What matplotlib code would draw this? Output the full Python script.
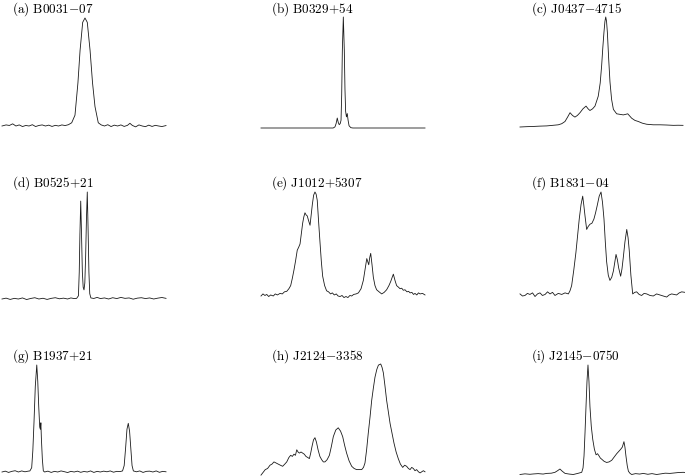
import numpy as np
import matplotlib
matplotlib.use("Agg")
import matplotlib.pyplot as plt

plt.rcParams['mathtext.fontset'] = 'cm'

# pulse profiles: (pulse phase, flux / peak flux)
a_profile = [(0.000, 0.000), (0.025, 0.010), (0.045, 0.005), (0.065, 0.020), (0.085, 0.000),
             (0.105, 0.010), (0.125, -0.005), (0.145, 0.005), (0.165, 0.000), (0.185, 0.012),
             (0.205, -0.005), (0.225, 0.005), (0.245, 0.010), (0.265, 0.000), (0.285, 0.008),
             (0.305, -0.004), (0.325, 0.006), (0.345, 0.000), (0.365, 0.010), (0.385, 0.004),
             (0.405, 0.012), (0.425, 0.030), (0.445, 0.100), (0.463, 0.400), (0.476, 0.700),
             (0.492, 0.960), (0.506, 1.000), (0.520, 0.960), (0.537, 0.700), (0.552, 0.400),
             (0.567, 0.180), (0.587, 0.030), (0.605, 0.010), (0.625, 0.000), (0.645, 0.012),
             (0.665, -0.005), (0.685, 0.008), (0.705, 0.000), (0.725, 0.010), (0.745, -0.004),
             (0.765, 0.006), (0.780, 0.025), (0.795, 0.005), (0.815, -0.008), (0.835, 0.010),
             (0.855, 0.000), (0.875, -0.006), (0.895, 0.008), (0.915, -0.004), (0.935, 0.006),
             (0.955, 0.000), (0.975, -0.005), (1.000, 0.004)]

b_profile = [(0.000, 0.0), (0.400, 0.0), (0.440, 0.0), (0.451, 0.01), (0.458, 0.04),
             (0.465, 0.09), (0.471, 0.05), (0.477, 0.03), (0.483, 0.04), (0.488, 0.07),
             (0.492, 0.30), (0.496, 0.70), (0.502, 1.00), (0.508, 0.70), (0.512, 0.35),
             (0.516, 0.15), (0.521, 0.10), (0.526, 0.13), (0.531, 0.07), (0.537, 0.02),
             (0.548, 0.003), (0.560, 0.0), (1.000, 0.0)]

c_profile = [(0.000, 0.000), (0.041, 0.003), (0.082, 0.005), (0.123, 0.008), (0.164, 0.010),
             (0.200, 0.015), (0.235, 0.020), (0.256, 0.030), (0.276, 0.050), (0.292, 0.090),
             (0.307, 0.130), (0.322, 0.105), (0.337, 0.090), (0.352, 0.105), (0.368, 0.130),
             (0.386, 0.165), (0.405, 0.190), (0.418, 0.165), (0.429, 0.150), (0.445, 0.165),
             (0.460, 0.190), (0.480, 0.280), (0.492, 0.400), (0.501, 0.560), (0.508, 0.720),
             (0.515, 0.860), (0.521, 0.960), (0.526, 1.000), (0.531, 0.960), (0.536, 0.860),
             (0.544, 0.620), (0.552, 0.410), (0.562, 0.250), (0.573, 0.160), (0.593, 0.120),
             (0.613, 0.115), (0.634, 0.110), (0.648, 0.115), (0.661, 0.120), (0.673, 0.100),
             (0.685, 0.080), (0.705, 0.060), (0.726, 0.050), (0.750, 0.035), (0.777, 0.025),
             (0.818, 0.020), (0.859, 0.020), (0.900, 0.018), (0.941, 0.015), (0.970, 0.016),
             (1.000, 0.015)]

d_profile = [(0.000, 0.000), (0.025, 0.008), (0.050, -0.004), (0.075, 0.006), (0.100, 0.000),
             (0.125, 0.010), (0.150, -0.005), (0.175, 0.005), (0.200, 0.012), (0.225, 0.000),
             (0.250, 0.007), (0.275, -0.004), (0.300, 0.006), (0.325, 0.012), (0.350, 0.002),
             (0.375, 0.008), (0.400, 0.000), (0.420, 0.010), (0.440, 0.004), (0.455, 0.006),
             (0.466, 0.030), (0.471, 0.250), (0.475, 0.600), (0.480, 0.915), (0.485, 0.600),
             (0.490, 0.250), (0.495, 0.110), (0.500, 0.085), (0.505, 0.150), (0.510, 0.400),
             (0.515, 0.750), (0.520, 1.000), (0.525, 0.650), (0.530, 0.250), (0.535, 0.050),
             (0.542, 0.010), (0.560, 0.005), (0.580, 0.015), (0.600, 0.004), (0.625, 0.010),
             (0.650, 0.000), (0.675, 0.012), (0.700, 0.004), (0.725, 0.015), (0.750, 0.006),
             (0.775, 0.010), (0.800, -0.002), (0.825, 0.008), (0.850, 0.012), (0.875, 0.004),
             (0.900, 0.010), (0.925, 0.000), (0.950, 0.008), (0.975, 0.014), (1.000, 0.006)]

e_profile = [(0.000, 0.000), (0.012, 0.020), (0.024, 0.005), (0.035, 0.015), (0.047, -0.005),
             (0.059, 0.010), (0.075, 0.000), (0.087, 0.020), (0.100, 0.010), (0.116, 0.025),
             (0.130, 0.020), (0.143, 0.040), (0.157, 0.045), (0.170, 0.070), (0.181, 0.100),
             (0.191, 0.170), (0.201, 0.250), (0.211, 0.340), (0.221, 0.440), (0.230, 0.470),
             (0.238, 0.500), (0.246, 0.600), (0.254, 0.700), (0.261, 0.760), (0.268, 0.800),
             (0.275, 0.780), (0.282, 0.770), (0.291, 0.720), (0.299, 0.680), (0.306, 0.780),
             (0.313, 0.880), (0.321, 0.970), (0.329, 1.000), (0.336, 0.980), (0.343, 0.920),
             (0.351, 0.720), (0.360, 0.510), (0.368, 0.330), (0.376, 0.190), (0.388, 0.100),
             (0.400, 0.050), (0.412, 0.040), (0.424, 0.020), (0.435, 0.030), (0.447, 0.010),
             (0.459, 0.020), (0.470, 0.000), (0.482, -0.005), (0.494, 0.005), (0.506, -0.015),
             (0.518, -0.005), (0.530, -0.015), (0.542, 0.005), (0.553, 0.000), (0.565, 0.015),
             (0.580, 0.020), (0.594, 0.030), (0.610, 0.070), (0.624, 0.150), (0.636, 0.270),
             (0.645, 0.360), (0.651, 0.330), (0.657, 0.300), (0.663, 0.370), (0.669, 0.410),
             (0.677, 0.300), (0.685, 0.180), (0.695, 0.100), (0.705, 0.060), (0.720, 0.040),
             (0.736, 0.020), (0.751, 0.035), (0.766, 0.060), (0.780, 0.100), (0.791, 0.140),
             (0.800, 0.180), (0.807, 0.210), (0.817, 0.150), (0.827, 0.100), (0.838, 0.085),
             (0.848, 0.070), (0.858, 0.075), (0.868, 0.055), (0.878, 0.060), (0.890, 0.040),
             (0.900, 0.045), (0.909, 0.030), (0.920, 0.035), (0.930, 0.015), (0.939, 0.025),
             (0.950, 0.010), (0.960, 0.030), (0.970, 0.020), (0.985, 0.025), (1.000, 0.010)]

f_profile = [(0.000, 0.020), (0.015, 0.000), (0.030, 0.005), (0.045, 0.025), (0.060, 0.015),
             (0.076, 0.030), (0.091, -0.005), (0.106, 0.020), (0.121, 0.030), (0.136, 0.005),
             (0.152, 0.015), (0.167, 0.040), (0.182, 0.020), (0.197, 0.035), (0.212, 0.005),
             (0.232, 0.025), (0.253, 0.015), (0.273, 0.030), (0.293, 0.020), (0.303, 0.050),
             (0.313, 0.100), (0.326, 0.250), (0.339, 0.420), (0.349, 0.580), (0.359, 0.740),
             (0.370, 0.880), (0.380, 0.960), (0.387, 0.870), (0.394, 0.770), (0.404, 0.640),
             (0.414, 0.670), (0.424, 0.690), (0.436, 0.700), (0.448, 0.740), (0.458, 0.800),
             (0.468, 0.870), (0.480, 0.960), (0.491, 1.000), (0.500, 0.900), (0.509, 0.740),
             (0.517, 0.520), (0.525, 0.330), (0.535, 0.200), (0.545, 0.150), (0.556, 0.180),
             (0.566, 0.240), (0.574, 0.320), (0.582, 0.400), (0.590, 0.350), (0.598, 0.270),
             (0.610, 0.190), (0.618, 0.260), (0.626, 0.370), (0.636, 0.520), (0.647, 0.640),
             (0.655, 0.560), (0.662, 0.440), (0.672, 0.200), (0.683, 0.020), (0.695, 0.035),
             (0.707, 0.040), (0.722, 0.015), (0.737, 0.005), (0.752, 0.025), (0.768, 0.020),
             (0.788, 0.005), (0.808, 0.000), (0.828, 0.020), (0.848, 0.010), (0.868, 0.000),
             (0.889, -0.010), (0.904, 0.010), (0.919, 0.020), (0.934, 0.015), (0.949, 0.010),
             (0.965, 0.030), (0.980, 0.040), (1.000, 0.035)]

g_profile = [(0.000, 0.000), (0.020, 0.008), (0.040, -0.004), (0.060, 0.006), (0.080, 0.012),
             (0.100, 0.000), (0.120, 0.010), (0.140, 0.002), (0.160, 0.008), (0.170, 0.010),
             (0.181, 0.040), (0.188, 0.200), (0.195, 0.460), (0.203, 0.800), (0.212, 1.000),
             (0.218, 0.850), (0.224, 0.610), (0.230, 0.420), (0.234, 0.400), (0.237, 0.460),
             (0.240, 0.320), (0.246, 0.120), (0.252, 0.010), (0.260, 0.000), (0.280, 0.008),
             (0.300, -0.004), (0.320, 0.006), (0.340, 0.000), (0.360, 0.010), (0.380, 0.003),
             (0.400, -0.005), (0.420, 0.006), (0.440, 0.000), (0.460, 0.008), (0.480, -0.003),
             (0.500, 0.005), (0.520, 0.000), (0.540, 0.010), (0.560, -0.004), (0.580, 0.006),
             (0.600, 0.000), (0.620, 0.008), (0.640, 0.002), (0.660, 0.010), (0.680, -0.002),
             (0.700, 0.006), (0.720, 0.004), (0.735, 0.010), (0.745, 0.060), (0.754, 0.230),
             (0.762, 0.400), (0.770, 0.455), (0.778, 0.380), (0.785, 0.230), (0.793, 0.060),
             (0.801, 0.010), (0.820, 0.002), (0.840, 0.010), (0.860, -0.004), (0.880, 0.006),
             (0.900, 0.008), (0.920, 0.000), (0.940, 0.010), (0.960, -0.003), (0.980, 0.006),
             (1.000, 0.002)]

h_profile = [(0.000, -0.01), (0.026, 0.04), (0.040, 0.05), (0.055, 0.08), (0.067, 0.09),
             (0.079, 0.11), (0.092, 0.10), (0.105, 0.09), (0.118, 0.08), (0.132, 0.07),
             (0.145, 0.09), (0.157, 0.11), (0.170, 0.15), (0.181, 0.17), (0.191, 0.16),
             (0.201, 0.18), (0.210, 0.17), (0.218, 0.22), (0.226, 0.20), (0.234, 0.19),
             (0.244, 0.20), (0.254, 0.19), (0.264, 0.18), (0.274, 0.16), (0.285, 0.15),
             (0.295, 0.14), (0.303, 0.19), (0.311, 0.25), (0.320, 0.31), (0.329, 0.33),
             (0.338, 0.29), (0.348, 0.22), (0.359, 0.16), (0.370, 0.13), (0.380, 0.11),
             (0.390, 0.11), (0.403, 0.13), (0.417, 0.17), (0.429, 0.25), (0.441, 0.34),
             (0.456, 0.40), (0.471, 0.42), (0.485, 0.39), (0.498, 0.34), (0.510, 0.26),
             (0.522, 0.19), (0.537, 0.12), (0.553, 0.07), (0.568, 0.05), (0.583, 0.04),
             (0.600, 0.04), (0.614, 0.04), (0.625, 0.06), (0.634, 0.10), (0.644, 0.22),
             (0.654, 0.37), (0.665, 0.52), (0.675, 0.67), (0.685, 0.78), (0.695, 0.88),
             (0.706, 0.95), (0.716, 0.99), (0.730, 1.00), (0.738, 0.97), (0.746, 0.92),
             (0.756, 0.80), (0.766, 0.67), (0.777, 0.56), (0.787, 0.46), (0.799, 0.37),
             (0.811, 0.28), (0.824, 0.20), (0.837, 0.14), (0.850, 0.09), (0.864, 0.06),
             (0.876, 0.08), (0.888, 0.07), (0.899, 0.05), (0.909, 0.04), (0.919, 0.06),
             (0.929, 0.05), (0.939, 0.03), (0.949, 0.04), (0.960, 0.02), (0.970, 0.01),
             (0.980, 0.02), (0.990, 0.03), (1.000, 0.02)]

i_profile = [(0.000, 0.000), (0.030, 0.006), (0.060, 0.002), (0.081, 0.005), (0.110, 0.008),
             (0.140, 0.004), (0.162, 0.010), (0.190, 0.012), (0.212, 0.020), (0.228, 0.035),
             (0.242, 0.050), (0.256, 0.030), (0.273, 0.010), (0.298, 0.004), (0.323, 0.000),
             (0.350, 0.010), (0.374, 0.020), (0.382, 0.060), (0.388, 0.170), (0.394, 0.380),
             (0.400, 0.620), (0.406, 0.850), (0.412, 1.000), (0.418, 0.850), (0.424, 0.620),
             (0.432, 0.440), (0.441, 0.320), (0.451, 0.230), (0.461, 0.180), (0.470, 0.190),
             (0.479, 0.170), (0.487, 0.150), (0.495, 0.140), (0.510, 0.120), (0.525, 0.110),
             (0.540, 0.115), (0.556, 0.130), (0.571, 0.160), (0.586, 0.190), (0.598, 0.210),
             (0.610, 0.230), (0.620, 0.250), (0.630, 0.300), (0.636, 0.250), (0.642, 0.170),
             (0.650, 0.080), (0.657, 0.030), (0.667, 0.010), (0.677, 0.000), (0.700, 0.008),
             (0.725, 0.004), (0.747, 0.010), (0.775, 0.002), (0.800, 0.008), (0.828, 0.000),
             (0.855, 0.006), (0.880, 0.012), (0.909, 0.010), (0.935, 0.014), (0.960, 0.018),
             (0.990, 0.020), (1.000, 0.018)]

profiles = [a_profile, b_profile, c_profile, d_profile, e_profile,
            f_profile, g_profile, h_profile, i_profile]
labels = ["(a) B0031-07", "(b) B0329+54", "(c) J0437-4715",
          "(d) B0525+21", "(e) J1012+5307", "(f) B1831-04",
          "(g) B1937+21", "(h) J2124-3358", "(i) J2145-0750"]

W, H = 685, 476
fig = plt.figure(figsize=(W / 100, H / 100), dpi=100)

# panel boxes in pixels: left, right, baseline row, peak row
boxes = [(2, 166, 126, 18), (261, 425, 128, 17), (520, 683, 127, 17),
         (2, 166, 299, 192), (261, 425, 296, 192), (520, 685, 296, 192),
         (2, 166, 472, 365), (261, 425, 474, 364), (520, 685, 474.5, 365)]
title_x = [11.7, 270.7, 530.7]
title_base = [12.7, 187, 360]


def math_label(s):
    s = s.replace(' ', r'\ ').replace('-', '{-}').replace('+', '{+}')
    return r'$\mathrm{' + s + '}$'


for k, (prof, lab) in enumerate(zip(profiles, labels)):
    l, r, base, peak = boxes[k]
    ax = fig.add_axes([l / W, 1 - base / H, (r - l) / W, (base - peak) / H])
    ph, fl = np.array(prof).T
    ax.plot(ph, fl, color='#1a1a1a', lw=0.6, clip_on=False)
    ax.set_xlim(0, 1)
    ax.set_ylim(0, 1)
    ax.axis('off')

    row, col = divmod(k, 3)
    fig.text(title_x[col] / W, 1 - title_base[row] / H, math_label(lab),
             ha='left', va='baseline', fontsize=9.5)

fig.savefig("out.png", dpi=100)
plt.close(fig)
